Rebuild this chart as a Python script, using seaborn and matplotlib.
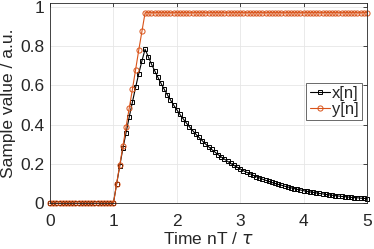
import numpy as np
import pandas as pd
import matplotlib
matplotlib.use("Agg")
import matplotlib.pyplot as plt
import seaborn as sns

# sample time step nT/tau = 0.05, 101 samples from 0 to 5
sample_index = np.arange(101)
t_step = 0.05

x_values = [0.0] * 21 + [
    0.097, 0.19, 0.28, 0.36, 0.44, 0.515, 0.59, 0.66, 0.725,
    0.784, 0.746, 0.709, 0.675, 0.642, 0.611, 0.581, 0.553, 0.526, 0.500,
    0.476, 0.452, 0.430, 0.409, 0.389, 0.370, 0.352, 0.335, 0.319, 0.303,
    0.288, 0.274, 0.261, 0.248, 0.236, 0.225, 0.214, 0.203, 0.193, 0.184,
    0.175, 0.166, 0.158, 0.151, 0.143, 0.136, 0.130, 0.123, 0.117, 0.112,
    0.106, 0.101, 0.096, 0.092, 0.087, 0.083, 0.079, 0.075, 0.071, 0.068,
    0.064, 0.061, 0.058, 0.056, 0.053, 0.050, 0.048, 0.045, 0.043, 0.041,
    0.039, 0.037, 0.035, 0.034, 0.032, 0.030, 0.029, 0.028, 0.026, 0.025,
    0.024,
]
y_values = [0.0] * 21 + [
    0.097, 0.195, 0.29, 0.39, 0.485, 0.58, 0.68, 0.78, 0.875,
] + [0.97] * 71

xticks = [0, 1, 2, 3, 4, 5]
yticks = [0, 0.2, 0.4, 0.6, 0.8, 1]
ytick_labels = ["0", "0.2", "0.4", "0.6", "0.8", "1"]

t = sample_index * t_step
df = pd.DataFrame({"t": t, "x": x_values, "y": y_values})

sns.set_theme(style="white")
plt.rcParams["font.family"] = ["Liberation Sans", "DejaVu Sans"]
plt.rcParams["mathtext.fontset"] = "dejavusans"

fig = plt.figure(figsize=(3.74, 2.49), dpi=100)
ax = fig.add_axes([50 / 374, 1 - 203.3 / 249, 317 / 374, 200.6 / 249])

orange = "#D95319"
sns.lineplot(data=df, x="t", y="x", ax=ax, color="black", lw=0.8,
             marker="s", markersize=2.7, markerfacecolor="none",
             markeredgecolor="black", markeredgewidth=0.7, label="x[n]",
             clip_on=False)
sns.lineplot(data=df, x="t", y="y", ax=ax, color=orange, lw=0.8,
             marker="o", markersize=3.7, markerfacecolor="none",
             markeredgecolor=orange, markeredgewidth=0.7, label="y[n]",
             clip_on=False)

ax.set_xlim(0, 5)
ax.set_ylim(0, 1.021)
ax.set_xticks(xticks)
ax.set_yticks(yticks)
ax.set_yticklabels(ytick_labels)
ax.grid(True, color="#e6e6e6", lw=0.6)
ax.set_axisbelow(True)
ax.tick_params(direction="in", length=3, width=0.6, labelsize=12.5,
               top=True, right=True, colors="#262626", pad=4)
ax.tick_params(axis="x", pad=8)
for s in ax.spines.values():
    s.set_color("#262626")
    s.set_linewidth(0.6)

ax.set_xlabel(r"Time nT / $\tau$", fontsize=12.5, labelpad=1.5, color="#262626")
ax.set_ylabel("Sample value / a.u.", fontsize=12.5, labelpad=3, color="#262626")

leg = ax.legend(loc="upper right", bbox_to_anchor=(0.985, 0.60),
                fontsize=12, frameon=True, fancybox=False,
                handlelength=1.2, handletextpad=0.15, borderpad=0.2,
                labelspacing=0.05, borderaxespad=0)
leg.get_frame().set_edgecolor("#262626")
leg.get_frame().set_linewidth(0.6)

fig.savefig("out.png", dpi=100)
